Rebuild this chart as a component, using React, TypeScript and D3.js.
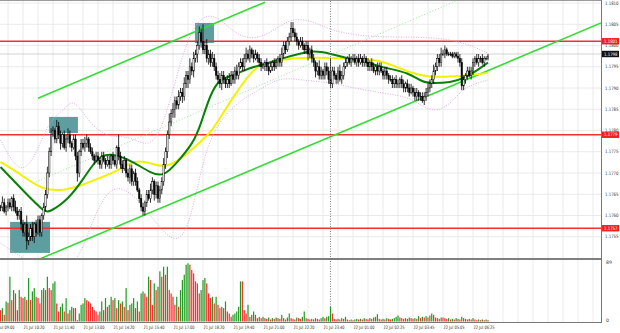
import React from "react";
import * as d3 from "d3";

const W = 620;
const H = 333;
const PLOT_RIGHT = 601;
const MAIN_TOP = 1;
const MAIN_BOTTOM = 258;
const VOL_TOP = 260;
const VOL_BOTTOM = 322;

// Price in pips above 1.1700
const closes = [
  63, 62, 63, 62, 62, 63, 61, 62, 63, 62, 64, 62, 61, 60, 61, 58, 56, 58, 54, 55,
  57, 55, 58, 56, 59, 56, 60, 62, 65, 70, 75, 79, 80, 78, 81, 79, 77, 79, 76, 78,
  79, 77, 76, 78, 74, 70, 75, 77, 76, 77, 78, 76, 75, 74, 73, 74, 73, 72, 74, 73,
  72, 73, 72, 74, 73, 72, 76, 74, 72, 71, 73, 70, 69, 71, 68, 70, 68, 66, 64, 62,
  61, 63, 65, 64, 66, 68, 65, 67, 64, 66, 68, 72, 75, 79, 82, 84, 85, 87, 86, 88,
  89, 88, 91, 93, 92, 95, 94, 97, 98, 100, 103, 101, 99, 100, 97, 98, 96, 97, 95, 93,
  92, 91, 93, 92, 91, 92, 91, 93, 92, 94, 93, 95, 96, 95, 97, 98, 97, 99, 98, 97,
  98, 97, 96, 95, 95, 96, 95, 94, 95, 96, 95, 96, 97, 96, 98, 100, 99, 101, 102, 104,
  103, 102, 101, 100, 101, 100, 99, 100, 98, 99, 97, 96, 94, 95, 93, 94, 93, 95, 94, 92,
  91, 94, 93, 92, 94, 92, 93, 95, 96, 97, 96, 97, 97, 96, 97, 96, 97, 96, 97, 96,
  95, 96, 95, 94, 95, 94, 95, 94, 93, 94, 93, 92, 92, 91, 92, 91, 91, 92, 91, 90,
  91, 90, 89, 90, 89, 88, 89, 88, 88, 87, 88, 89, 90, 91, 92, 94, 95, 97, 96, 98,
  98, 99, 98, 98, 98, 97.5, 98, 97.5, 97, 96, 90.5, 92, 93, 94, 93, 94, 96, 97, 96, 97,
  97, 96, 97, 97, 97.5,
];

const upperWicks = [
  1, 0.5, 1, 1, 0.5, 1.5, 1, 0.5, 1, 1, 0.5, 1, 1.5, 1, 0.5, 1, 1, 0.5, 2, 1,
  1, 1.5, 0.5, 1, 1, 1, 0.5, 1, 1, 1.5, 1, 1.5, 1, 0.5, 1.5, 1, 1, 0.5, 1, 1,
  1.5, 1, 0.5, 1, 1, 1, 0.5, 1, 1, 1.5, 1, 0.5, 1, 1, 0.5, 1, 1, 0.5, 1, 1,
  0.5, 1, 1, 0.5, 1, 1, 0.5, 3, 1, 1, 1, 0.5, 1, 1, 1, 0.5, 1, 1, 0.5, 1,
  1, 0.5, 1, 1, 1.5, 1, 0.5, 1, 1, 1, 1, 1.5, 1, 1, 2, 1, 1.5, 1, 1, 1.5,
  1, 1, 1.5, 1, 1, 2, 1, 1.5, 1, 1, 1.5, 1, 4, 1, 1.5, 1, 1, 1.5, 1, 1,
  1, 1.5, 1, 1, 0.5, 1, 1.5, 1, 1, 1, 1.5, 1, 1, 1, 1, 1.5, 1, 1, 0.5, 1,
  1, 0.5, 1, 1, 1, 0.5, 1, 1, 1, 0.5, 1, 1, 0.5, 1, 1.5, 1, 1, 1, 1, 1.5,
  1.5, 1, 1, 0.5, 1, 1, 0.5, 1, 1, 0.5, 1, 1, 0.5, 1, 1.5, 1, 0.5, 1, 1, 1,
  5, 1, 1, 0.5, 1, 1.5, 1, 1, 1, 0.5, 1, 0.5, 1, 1, 0.5, 1, 1, 0.5, 1, 0.5,
  1, 0.5, 1, 1, 0.5, 1, 1, 1, 0.5, 1, 1, 0.5, 1, 1, 0.5, 1, 1, 0.5, 1, 1,
  0.5, 1, 1, 1, 0.5, 1, 1, 0.5, 1, 1, 1, 1, 1.5, 1, 1, 1.5, 1, 1, 1, 1.5,
  1, 1, 0.5, 0.5, 0.5, 0.5, 0.5, 0.5, 1, 1, 1, 1, 0.5, 1, 1, 1, 1, 0.5, 1, 1,
  0.5, 1, 0.5, 0.5, 0.5,
];

const lowerWicks = [
  1, 1, 0.5, 1, 1, 1, 0.5, 1, 1, 0.5, 1, 1, 0.5, 1, 1, 1.5, 1, 1, 2, 1,
  1, 1, 1.5, 1, 0.5, 1, 1, 1, 1, 1, 1, 1, 0.5, 1, 1, 1, 1.5, 1, 0.5, 1,
  1, 1, 1, 0.5, 1, 2, 1, 1, 0.5, 1, 1, 1, 0.5, 1, 1, 0.5, 1, 1, 1, 0.5,
  1, 0.5, 1, 1, 1, 0.5, 1, 1, 1, 1, 0.5, 1, 1, 1.5, 1, 1, 1, 0.5, 1, 1,
  1, 1, 1, 0.5, 1, 1, 1.5, 1, 1, 1, 1, 1, 1, 1.5, 1, 1, 1, 2, 1, 1,
  1, 1.5, 1, 1, 2, 1, 1, 1.5, 1, 2, 1, 1.5, 1, 1, 1, 1.5, 1, 1, 1, 1,
  1, 1, 1.5, 1, 1, 1, 1, 0.5, 1, 1, 1, 1, 0.5, 1, 1, 1, 0.5, 1, 1, 1,
  0.5, 1, 1, 1, 0.5, 1, 1, 1, 0.5, 1, 1, 0.5, 1, 1, 1, 1, 1, 0.5, 1, 1,
  1, 1, 1, 1, 0.5, 1, 1, 1, 1.5, 1, 1, 1, 1.5, 1, 1, 1, 1, 1, 1, 1,
  1, 1, 1, 1, 1, 0.5, 1, 1, 0.5, 1, 0.5, 1, 1, 0.5, 1, 1, 0.5, 1, 1, 1,
  1, 1, 1, 0.5, 1, 1, 1, 0.5, 1, 1, 1, 1, 0.5, 1, 1, 1, 1, 1, 1, 1,
  1, 1, 1, 0.5, 1, 1, 1, 1, 1, 0.5, 1, 1, 1, 1, 1, 1, 1, 1, 1, 1,
  0.5, 1, 0.5, 0.5, 0.5, 0.5, 0.5, 0.5, 1, 1, 1, 1, 1, 1, 0.5, 1, 1, 1, 0.5, 1,
  1, 0.5, 1, 0.5, 0.5,
];

const volumes = [
  15, 20, 12, 18,
  17, 20, 10, 30, 28, 67, 32, 47, 42, 17,
  47, 37, 35, 37, 32, 65, 32, 45, 50, 37,
  35, 27, 47, 50, 47, 67, 50, 47, 57, 60,
  27, 15, 22, 27, 15, 35, 12, 17, 22, 20,
  20, 2, 12, 25, 27, 35, 32, 30, 27, 22,
  17, 15, 10, 15, 30, 17, 35, 22, 25, 37,
  32, 35, 20, 32, 27, 30, 22, 50, 17, 25,
  27, 35, 20, 30, 15, 42, 45, 42, 37, 67,
  62, 25, 57, 47, 52, 75, 67, 82, 70, 82,
  47, 42, 37, 25, 37, 22, 47, 62, 70, 85,
  87, 85, 77, 72, 60,
  57, 42, 47, 62, 65, 57, 42, 35, 37,
  27, 37, 25, 20, 22, 20, 30, 15, 12,
  7, 10, 12, 15, 22, 60, 60, 17, 12,
  25, 7, 10, 15,
  10, 5, 7, 5,
  7, 5, 4, 6, 3, 5, 4, 6, 5, 4, 10, 5, 3, 6, 12, 5, 4, 3, 6, 5, 4, 7, 15, 5, 4, 3,
  4, 3, 5, 4, 3, 5, 7, 5, 7, 8,
  22, 12, 4, 3, 4, 3, 5, 4, 7, 3,
  2, 3, 2, 3, 4, 3, 4, 3, 5, 4,
  3, 5, 4, 6, 7, 11, 4, 3, 4, 3,
  5, 4, 3, 4, 5, 7, 9, 6, 5, 4,
  5, 4, 6, 5, 4, 5, 4, 8, 5, 7,
  6, 8, 6, 9, 12, 10, 6, 5, 4, 6,
  6, 5, 4, 5, 3, 4, 3, 5, 4, 3,
  7, 5, 4, 3, 4, 3, 5, 3, 2, 3,
  2, 3, 2, 3, 2,
];

const greenMAIdx = [4, 14, 27, 30, 40, 48, 57, 66, 75, 84, 91, 98, 107, 111, 116, 121, 128, 137, 146, 155, 164, 171, 180, 190, 200, 208, 222, 229, 235, 244, 251, 258, 264];
const greenMAVal = [71.4, 66.8, 60.9, 60.7, 63.7, 68.4, 74.7, 74.3, 72.6, 70.0, 69.1, 72.4, 77.1, 81.7, 88.7, 92.2, 92.9, 94.8, 95.7, 97.1, 98.1, 98.8, 98.1, 96.9, 96.0, 94.8, 93.6, 91.3, 91.1, 91.3, 92.2, 94.1, 96.0];

const yellowMAIdx = [4, 13, 27, 40, 48, 57, 66, 75, 84, 91, 100, 110, 116, 122, 128, 137, 142, 146, 155, 164, 180, 190, 200, 210, 222, 233, 244, 253, 264];
const yellowMAVal = [72.6, 70.3, 65.6, 66.1, 67.2, 68.9, 70.3, 73.1, 72.4, 71.2, 73.1, 77.1, 79.4, 83.6, 87.8, 93.4, 95.3, 96.0, 96.7, 97.1, 97.1, 96.9, 96.9, 96.0, 93.6, 92.5, 92.7, 92.9, 93.6];

const bbUpperIdx = [4, 14, 22, 30, 38, 43, 52, 62, 73, 84, 92, 100, 108, 118, 129, 140, 150, 160, 172, 182, 201, 222, 238, 252, 264];
const bbUpperVal = [77.8, 69.5, 73.1, 82.5, 84.8, 87.9, 81.3, 78.2, 78.9, 75.4, 82.5, 96.6, 106, 107.9, 102.5, 101.3, 103.6, 106.7, 105.5, 103.2, 102, 102, 101.8, 100.6, 98.2];
const bbLowerIdx = [4, 14, 25, 44, 52, 62, 73, 84, 92, 99, 105, 113, 121, 132, 142, 153, 164, 181, 190, 208, 222, 230, 238, 246, 251, 264];
const bbLowerVal = [53.5, 50.5, 47.5, 47.0, 57.8, 67.2, 66, 60.1, 55.4, 53.8, 57.8, 75.4, 82.5, 87.2, 89.5, 92.6, 91.9, 91.2, 90.2, 88.8, 87.9, 85.3, 84.4, 87.2, 90.2, 91.9];

const channelUpperIdx = [24, 145.1];
const channelUpperVal = [87.6, 110.2];
const channelLowerIdx = [25.1, 324.3];
const channelLowerVal = [49.8, 105.3];
const midDottedIdx = [21.3, 248];
const midDottedVal = [67.6, 110.7];

const boxIdx0 = [9.1, 29.9, 107.7];
const boxIdx1 = [30.4, 45.3, 117.9];
const boxTop = [58.5, 83.2, 105.3];
const boxBottom = [51.2, 79.4, 100.6];

const levels = [1.1801, 1.1779, 1.1757];
const currentPrice = 1.1798;
const priceTicks = [1.1755, 1.176, 1.1765, 1.177, 1.1775, 1.178, 1.1785, 1.179, 1.1795, 1.18, 1.1805, 1.181];
const timeLabels = [
  "21 Jul 09:00", "21 Jul 10:20", "21 Jul 11:40", "21 Jul 13:00", "21 Jul 14:20", "21 Jul 15:40",
  "21 Jul 17:00", "21 Jul 18:20", "21 Jul 19:40", "21 Jul 21:00", "21 Jul 22:20", "21 Jul 23:40",
  "22 Jul 01:00", "22 Jul 02:25", "22 Jul 03:45", "22 Jul 05:05", "22 Jul 06:25",
];
const labelStep = 16;
const gridStep = 8;
const daySeparatorIdx = 180;
const volMaxLabel = 89;

const x = d3.scaleLinear().domain([0, 264]).range([-7, 488]);
const yPips = d3.scaleLinear().domain([55, 80]).range([236.75, 130.5]);
const yPrice = d3.scaleLinear().domain([1.1755, 1.178]).range([236.75, 130.5]);
const yVol = d3.scaleLinear().domain([0, volMaxLabel]).range([321.5, 262]);

const FONT = "'DejaVu Sans', sans-serif";
const FS = 4.6;

function lineFrom(idx: number[], val: number[], curve: d3.CurveFactory = d3.curveMonotoneX) {
  const pts = idx.map((d, i) => [d, val[i]] as [number, number]);
  return d3
    .line<[number, number]>()
    .x((d) => x(d[0]))
    .y((d) => yPips(d[1]))
    .curve(curve)(pts) as string;
}

export default function App() {
  const candles = closes.map((c, i) => {
    const o = i === 0 ? c : closes[i - 1];
    const hi = Math.max(o, c) + upperWicks[i];
    const lo = Math.min(o, c) - lowerWicks[i];
    return { i, o, c, hi, lo };
  });
  const gridIdx = d3.range(0, 330, gridStep);
  const bodyW = 1.4;

  return (
    <svg width={W} height={H} style={{ position: "absolute", left: 0, top: 0, background: "#fff" }}>
      <defs>
        <clipPath id="mainClip">
          <rect x={0} y={MAIN_TOP} width={PLOT_RIGHT} height={MAIN_BOTTOM - MAIN_TOP} />
        </clipPath>
        <clipPath id="volClip">
          <rect x={0} y={VOL_TOP} width={PLOT_RIGHT} height={VOL_BOTTOM - VOL_TOP} />
        </clipPath>
      </defs>
      <rect x={0} y={0} width={W} height={H} fill="#ffffff" />

      {/* grid main */}
      <g clipPath="url(#mainClip)">
        {gridIdx.map((g) => (
          <line key={"vg" + g} x1={x(g)} x2={x(g)} y1={MAIN_TOP} y2={MAIN_BOTTOM} stroke="#e4e4e4" strokeWidth={0.8} />
        ))}
        {priceTicks.map((p) => (
          <line key={"hg" + p} x1={0} x2={PLOT_RIGHT} y1={yPrice(p)} y2={yPrice(p)} stroke="#e4e4e4" strokeWidth={0.8} />
        ))}
      </g>
      <g clipPath="url(#volClip)">
        {gridIdx.map((g) => (
          <line key={"vvg" + g} x1={x(g)} x2={x(g)} y1={VOL_TOP} y2={VOL_BOTTOM} stroke="#e8e8e8" strokeWidth={0.8} />
        ))}
      </g>

      {/* main chart contents */}
      <g clipPath="url(#mainClip)">
        {boxIdx0.map((b, k) => (
          <rect
            key={"box" + k}
            x={x(b)}
            y={yPips(boxTop[k])}
            width={x(boxIdx1[k]) - x(b)}
            height={yPips(boxBottom[k]) - yPips(boxTop[k])}
            fill="#5f9ea0"
          />
        ))}
        <line x1={0} x2={PLOT_RIGHT} y1={yPrice(currentPrice)} y2={yPrice(currentPrice)} stroke="#c8c8c8" strokeWidth={0.8} />
        {levels.map((l) => (
          <line key={"lv" + l} x1={0} x2={PLOT_RIGHT} y1={yPrice(l)} y2={yPrice(l)} stroke="#f03030" strokeWidth={1.5} />
        ))}
        <path d={lineFrom(midDottedIdx, midDottedVal, d3.curveLinear)} fill="none" stroke="#9be89b" strokeWidth={1} strokeDasharray="1,2" />
        <path d={lineFrom(bbUpperIdx, bbUpperVal, d3.curveBasis)} fill="none" stroke="#d8a4d8" strokeWidth={0.9} strokeDasharray="1,1.5" />
        <path d={lineFrom(bbLowerIdx, bbLowerVal, d3.curveBasis)} fill="none" stroke="#d8a4d8" strokeWidth={0.9} strokeDasharray="1,1.5" />
        <path d={lineFrom(channelUpperIdx, channelUpperVal, d3.curveLinear)} fill="none" stroke="#33dd33" strokeWidth={1.6} />
        <path d={lineFrom(channelLowerIdx, channelLowerVal, d3.curveLinear)} fill="none" stroke="#33dd33" strokeWidth={1.6} />
        <path d={lineFrom(yellowMAIdx, yellowMAVal, d3.curveBasis)} fill="none" stroke="#f2f200" strokeWidth={2} />
        <path d={lineFrom(greenMAIdx, greenMAVal, d3.curveBasis)} fill="none" stroke="#0a800a" strokeWidth={2} />
        {candles.map((d) => {
          const cx = x(d.i);
          const bull = d.c >= d.o;
          const top = yPips(Math.max(d.o, d.c));
          const bot = yPips(Math.min(d.o, d.c));
          return (
            <g key={"c" + d.i}>
              <line x1={cx} x2={cx} y1={yPips(d.hi)} y2={yPips(d.lo)} stroke="#000" strokeWidth={0.8} />
              <rect
                x={cx - bodyW / 2}
                y={top}
                width={bodyW}
                height={Math.max(0.8, bot - top)}
                fill={bull ? "#ffffff" : "#000000"}
                stroke="#000"
                strokeWidth={0.5}
              />
            </g>
          );
        })}
      </g>

      {/* day separator */}
      <line x1={x(daySeparatorIdx)} x2={x(daySeparatorIdx)} y1={MAIN_TOP} y2={VOL_BOTTOM} stroke="#666" strokeWidth={0.8} strokeDasharray="1,1.5" />

      {/* volumes */}
      <g clipPath="url(#volClip)">
        {volumes.map((v, i) => (
          <rect
            key={"v" + i}
            x={x(i) - 0.6}
            y={yVol(v)}
            width={1.2}
            height={yVol(0) - yVol(v)}
            fill={i > 0 && v > volumes[i - 1] ? "#1f9a1f" : "#ff2a2a"}
          />
        ))}
      </g>

      {/* frame */}
      <line x1={0} x2={PLOT_RIGHT} y1={0.5} y2={0.5} stroke="#9a9a9a" strokeWidth={1} />
      <line x1={0} x2={PLOT_RIGHT} y1={259} y2={259} stroke="#555" strokeWidth={1.6} />
      <line x1={0} x2={PLOT_RIGHT} y1={322.5} y2={322.5} stroke="#777" strokeWidth={1} />
      <line x1={PLOT_RIGHT + 0.5} x2={PLOT_RIGHT + 0.5} y1={0} y2={323} stroke="#777" strokeWidth={1} />

      {/* price axis labels */}
      {priceTicks.map((p) => (
        <text key={"pt" + p} x={605} y={yPrice(p) + 1.7} fontSize={FS} fontFamily={FONT} fill="#333" textLength={13.5} lengthAdjust="spacingAndGlyphs">
          {p.toFixed(4)}
        </text>
      ))}
      {levels.map((l) => (
        <g key={"ll" + l}>
          <rect x={602} y={yPrice(l) - 3.2} width={17} height={6.4} fill="#f02020" />
          <text x={604} y={yPrice(l) + 1.7} fontSize={FS} fontFamily={FONT} fill="#fff" textLength={13.5} lengthAdjust="spacingAndGlyphs">
            {l.toFixed(4)}
          </text>
        </g>
      ))}
      <rect x={602} y={yPrice(currentPrice) - 3.2} width={17} height={6.4} fill="#111" />
      <text x={604} y={yPrice(currentPrice) + 1.7} fontSize={FS} fontFamily={FONT} fill="#fff" textLength={13.5} lengthAdjust="spacingAndGlyphs">
        {currentPrice.toFixed(4)}
      </text>

      {/* volume axis labels */}
      <text x={606} y={yVol(volMaxLabel) + 2} fontSize={FS} fontFamily={FONT} fill="#333">
        {volMaxLabel}
      </text>
      <text x={606} y={yVol(0)} fontSize={FS} fontFamily={FONT} fill="#333">
        0
      </text>

      {/* time labels (the first one is partly cut at the left edge, as in the reference) */}
      {timeLabels.map((t, k) => (
        <text
          key={"tl" + k}
          x={x(k * labelStep) + 0.5}
          y={329}
          fontSize={FS}
          fontFamily={FONT}
          fill="#333"
          textLength={21}
          lengthAdjust="spacingAndGlyphs"
        >
          {t}
        </text>
      ))}
    </svg>
  );
}
